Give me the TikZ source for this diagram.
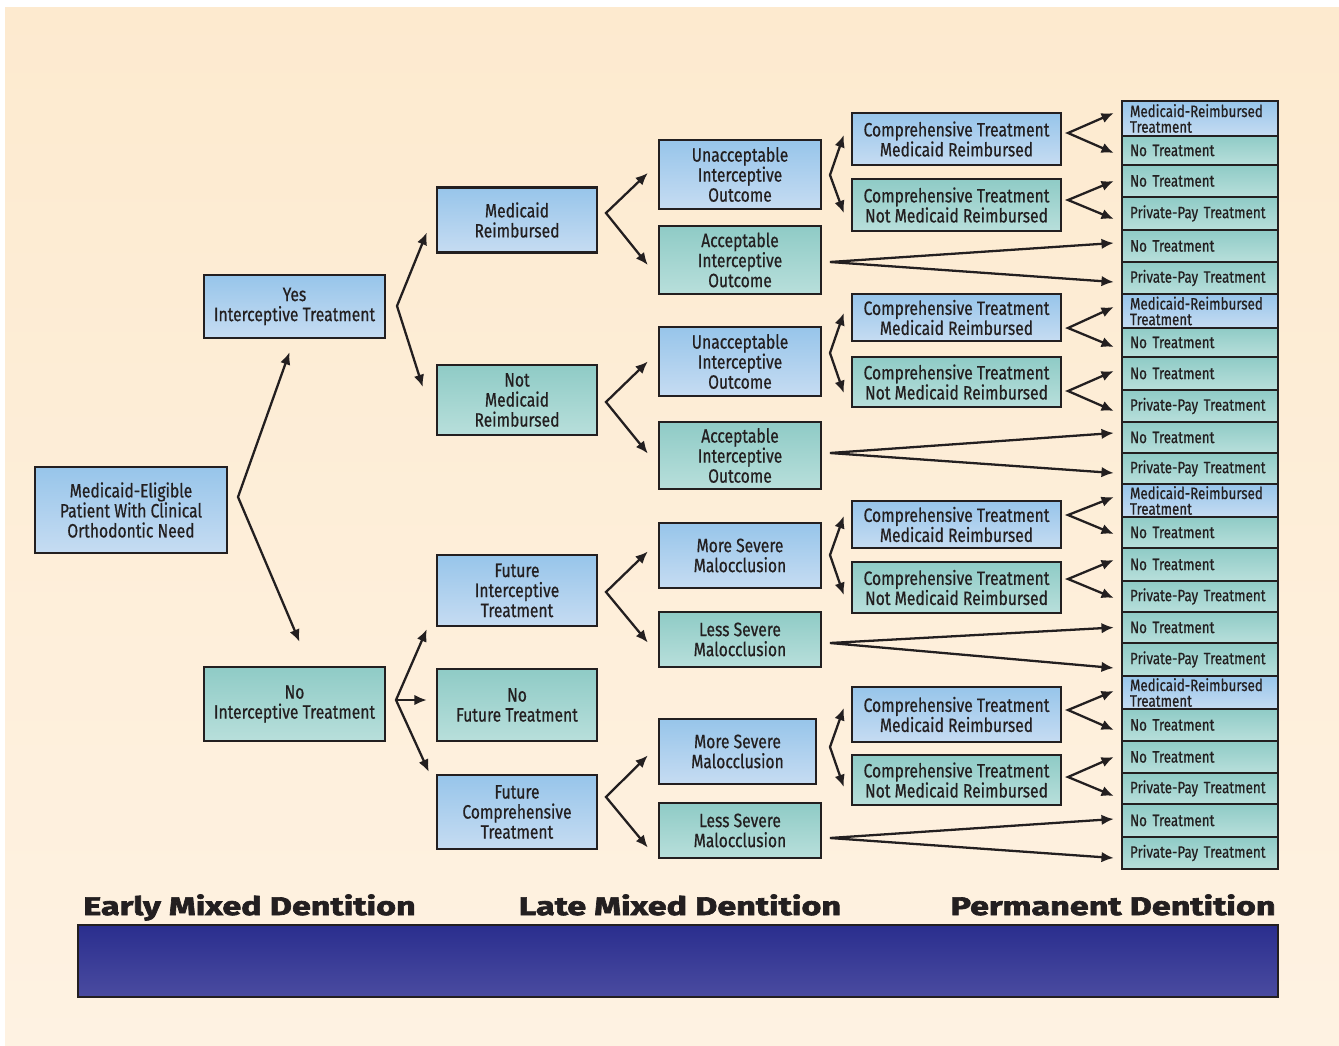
\documentclass[tikz,border=0pt]{standalone}
\usepackage{fontspec}
\setmainfont{Fira Sans}[FakeStretch=0.81, FakeBold=0.6]
\newfontfamily\stagefont{Fira Sans}[FakeStretch=1.34, BoldFeatures={FakeBold=2.6}]
\usepackage{tikz}
\usetikzlibrary{arrows.meta,calc}
\usepackage{xcolor}
\definecolor{ink}{HTML}{231F20}
\definecolor{blueTop}{HTML}{97C5EA}
\definecolor{blueBot}{HTML}{C6DCF2}
\definecolor{tealTop}{HTML}{8FCBC6}
\definecolor{tealBot}{HTML}{B8DFDB}
\definecolor{barTop}{HTML}{2A2E8E}
\definecolor{barBot}{HTML}{4A4BA0}
\definecolor{creamTop}{HTML}{FDEACF}
\definecolor{creamBot}{HTML}{FEF2E2}
\tikzset{box/.style={rectangle, draw=ink, line width=1.4pt, align=center, inner sep=0pt, text=ink, font=\fontsize{11}{11.4}\selectfont},bluebox/.style={box, top color=blueTop, bottom color=blueBot},tealbox/.style={box, top color=tealTop, bottom color=tealBot},leaf/.style={rectangle, draw=ink, line width=1.4pt, minimum width=3.12cm, text width=2.8cm, align=left, inner sep=0pt, text=ink, font=\fontsize{9.4}{8.9}\selectfont},blueleaf/.style={leaf, top color=blueTop, bottom color=blueBot},tealleaf/.style={leaf, top color=tealTop, bottom color=tealBot},arrowout/.style={-{Latex[length=7pt,width=6pt]}, line width=1.3pt, draw=ink},fork/.style={{Latex[length=7pt,width=6pt]}-{Latex[length=7pt,width=6pt]}, line width=1.3pt, draw=ink},stage/.style={inner sep=0pt, text=ink, font=\stagefont\bfseries\fontsize{14.5}{15}\selectfont}}

\begin{document}
\begin{tikzpicture}[x=0.02cm, y=-0.02cm]

\useasboundingbox (0,0) rectangle (1339,1045);
\fill[white] (0,0) rectangle (1339,1045);
\shade[top color=creamTop, bottom color=creamBot] (5,7) rectangle (1339,1045);

\node(root) at (131,510) [bluebox, minimum width=3.84cm, minimum height=1.72cm] {Medicaid-Eligible\\Patient With Clinical\\Orthodontic Need};
\node(yes) at (294.5,306.5) [bluebox, minimum width=3.62cm, minimum height=1.26cm] {Yes\\Interceptive Treatment};
\node(no) at (294.5,704) [tealbox, minimum width=3.62cm, minimum height=1.48cm] {No\\Interceptive Treatment};

\node(med) at (517,220) [bluebox, minimum width=3.2cm, minimum height=1.3cm] {Medicaid\\Reimbursed};
\node(notmed) at (517,400) [tealbox, minimum width=3.2cm, minimum height=1.4cm] {Not\\Medicaid\\Reimbursed};
\node(futint) at (517,590.5) [bluebox, minimum width=3.2cm, minimum height=1.42cm] {Future\\Interceptive\\Treatment};
\node(nofut) at (517,705) [tealbox, minimum width=3.2cm, minimum height=1.44cm] {No\\Future Treatment};
\node(futcomp) at (517,812) [bluebox, minimum width=3.2cm, minimum height=1.48cm] {Future\\Comprehensive\\Treatment};

\node(unacc1) at (740,174.5) [bluebox, minimum width=3.24cm, minimum height=1.38cm] {Unacceptable\\Interceptive\\Outcome};
\node(acc1) at (740,260) [tealbox, minimum width=3.24cm, minimum height=1.36cm] {Acceptable\\Interceptive\\Outcome};
\node(unacc2) at (740,361.5) [bluebox, minimum width=3.24cm, minimum height=1.38cm] {Unacceptable\\Interceptive\\Outcome};
\node(acc2) at (740,455.5) [tealbox, minimum width=3.24cm, minimum height=1.34cm] {Acceptable\\Interceptive\\Outcome};
\node(more1) at (740,555.5) [bluebox, minimum width=3.24cm, minimum height=1.3cm] {More Severe\\Malocclusion};
\node(less1) at (740,639.5) [tealbox, minimum width=3.24cm, minimum height=1.1cm] {Less Severe\\Malocclusion};
\node(more2) at (737.5,751.5) [bluebox, minimum width=3.14cm, minimum height=1.3cm] {More Severe\\Malocclusion};
\node(less2) at (740,830.5) [tealbox, minimum width=3.24cm, minimum height=1.1cm] {Less Severe\\Malocclusion};

\node(ctmr1) at (956.5,139) [bluebox, minimum width=4.18cm, minimum height=1.04cm] {Comprehensive Treatment\\Medicaid Reimbursed};
\node(ctn1) at (956.5,205) [tealbox, minimum width=4.18cm, minimum height=1.04cm] {Comprehensive Treatment\\Not Medicaid Reimbursed};
\node(ctmr2) at (956.5,317.5) [bluebox, minimum width=4.18cm, minimum height=0.94cm] {Comprehensive Treatment\\Medicaid Reimbursed};
\node(ctn2) at (956.5,382) [tealbox, minimum width=4.18cm, minimum height=1.0cm] {Comprehensive Treatment\\Not Medicaid Reimbursed};
\node(ctmr3) at (956.5,524.5) [bluebox, minimum width=4.18cm, minimum height=0.94cm] {Comprehensive Treatment\\Medicaid Reimbursed};
\node(ctn3) at (956.5,587.5) [tealbox, minimum width=4.18cm, minimum height=1.02cm] {Comprehensive Treatment\\Not Medicaid Reimbursed};
\node(ctmr4) at (956.5,714.5) [bluebox, minimum width=4.18cm, minimum height=1.1cm] {Comprehensive Treatment\\Medicaid Reimbursed};
\node(ctn4) at (956.5,780) [tealbox, minimum width=4.18cm, minimum height=1.0cm] {Comprehensive Treatment\\Not Medicaid Reimbursed};

\node(r1) at (1200,118.5) [blueleaf, minimum height=0.70cm] {Medicaid-Reimbursed\\Treatment};
\node(r2) at (1200,150.5) [tealleaf, minimum height=0.58cm] {No Treatment};
\node(r3) at (1200,181) [tealleaf, minimum height=0.64cm] {No Treatment};
\node(r4) at (1200,213.5) [tealleaf, minimum height=0.66cm] {Private-Pay Treatment};
\node(r5) at (1200,246) [tealleaf, minimum height=0.64cm] {No Treatment};
\node(r6) at (1200,278) [tealleaf, minimum height=0.64cm] {Private-Pay Treatment};
\node(r7) at (1200,311) [blueleaf, minimum height=0.68cm] {Medicaid-Reimbursed\\Treatment};
\node(r8) at (1200,342.5) [tealleaf, minimum height=0.58cm] {No Treatment};
\node(r9) at (1200,373.5) [tealleaf, minimum height=0.66cm] {No Treatment};
\node(r10) at (1200,406) [tealleaf, minimum height=0.64cm] {Private-Pay Treatment};
\node(r11) at (1200,437.5) [tealleaf, minimum height=0.62cm] {No Treatment};
\node(r12) at (1200,468.5) [tealleaf, minimum height=0.62cm] {Private-Pay Treatment};
\node(r13) at (1200,500.5) [blueleaf, minimum height=0.66cm] {Medicaid-Reimbursed\\Treatment};
\node(r14) at (1200,532.5) [tealleaf, minimum height=0.62cm] {No Treatment};
\node(r15) at (1200,564.5) [tealleaf, minimum height=0.66cm] {No Treatment};
\node(r16) at (1200,596.5) [tealleaf, minimum height=0.62cm] {Private-Pay Treatment};
\node(r17) at (1200,627.5) [tealleaf, minimum height=0.62cm] {No Treatment};
\node(r18) at (1200,659.5) [tealleaf, minimum height=0.66cm] {Private-Pay Treatment};
\node(r19) at (1200,692.5) [blueleaf, minimum height=0.66cm] {Medicaid-Reimbursed\\Treatment};
\node(r20) at (1200,725) [tealleaf, minimum height=0.64cm] {No Treatment};
\node(r21) at (1200,757) [tealleaf, minimum height=0.64cm] {No Treatment};
\node(r22) at (1200,788.5) [tealleaf, minimum height=0.62cm] {Private-Pay Treatment};
\node(r23) at (1200,820.5) [tealleaf, minimum height=0.66cm] {No Treatment};
\node(r24) at (1200,853) [tealleaf, minimum height=0.64cm] {Private-Pay Treatment};

\coordinate (vroot) at (238,497);
\coordinate (vyes) at (397,306);
\coordinate (vno) at (396,700);
\coordinate (vmed) at (606,213);
\coordinate (vnotmed) at (606,402);
\coordinate (vfutint) at (606,592);
\coordinate (vfutcomp) at (606,797);
\coordinate (vunacc1) at (830,175);
\coordinate (vacc1) at (830,262);
\coordinate (vunacc2) at (830,353);
\coordinate (vacc2) at (830,453);
\coordinate (vmore1) at (830,555);
\coordinate (vless1) at (830,643);
\coordinate (vmore2) at (830,747);
\coordinate (vless2) at (830,838);
\coordinate (vctmr1) at (1068,133);
\coordinate (vctn1) at (1068,200);
\coordinate (vctmr2) at (1068,328);
\coordinate (vctn2) at (1068,391);
\coordinate (vctmr3) at (1068,515);
\coordinate (vctn3) at (1068,579);
\coordinate (vctmr4) at (1068,710);
\coordinate (vctn4) at (1068,777);

\draw[fork] ($(yes.south)+(-5,13)$) -- (vroot) -- ($(no.north)+(5,-24)$);
\draw[fork] ($(med.west)+(-9,12.5)$) -- (vyes) -- ($(notmed.west)+(-13,-13)$);
\draw[fork] ($(futint.south west)+(-9,2)$) -- (vno) -- ($(futcomp.north west)+(-7,-2)$);
\draw[arrowout] (vno) -- ($(nofut.west)+(-9,-5)$);

\draw[fork] ($(unacc1.west)+(-10,-1.5)$) -- (vmed) -- ($(acc1.west)+(-10,5)$);
\draw[fork] ($(unacc2.west)+(-10,0)$) -- (vnotmed) -- ($(acc2.west)+(-10,-2)$);
\draw[fork] ($(more1.west)+(-10,-4)$) -- (vfutint) -- ($(less1.west)+(-10,3)$);
\draw[fork] ($(more2.west)+(-10,4)$) -- (vfutcomp) -- ($(less2.west)+(-10,17)$);

\draw[fork] ($(ctmr1.west)+(-7,-4)$) -- (vunacc1) -- ($(ctn1.west)+(-7,8)$);
\draw[fork] ($(ctmr2.west)+(-7,-4.5)$) -- (vunacc2) -- ($(ctn2.west)+(-7,11)$);
\draw[fork] ($(ctmr3.west)+(-7,-8.5)$) -- (vmore1) -- ($(ctn3.west)+(-7,7.5)$);
\draw[fork] ($(ctmr4.west)+(-7,-6.5)$) -- (vmore2) -- ($(ctn4.west)+(-7,7)$);

\draw[fork] ($(r5.west)+(-7,-3)$) -- (vacc1) -- ($(r6.west)+(-7,4)$);
\draw[fork] ($(r11.west)+(-7,-4.5)$) -- (vacc2) -- ($(r12.west)+(-7,4.5)$);
\draw[fork] ($(r17.west)+(-7,0)$) -- (vless1) -- ($(r18.west)+(-7,8.5)$);
\draw[fork] ($(r23.west)+(-7,-1.5)$) -- (vless2) -- ($(r24.west)+(-7,5)$);

\draw[fork] ($(r1.west)+(-7,-5.5)$) -- (vctmr1) -- ($(r2.west)+(-7,2.5)$);
\draw[fork] ($(r3.west)+(-7,0)$) -- (vctn1) -- ($(r4.west)+(-7,5.5)$);
\draw[fork] ($(r7.west)+(-7,-4)$) -- (vctmr2) -- ($(r8.west)+(-7,4.5)$);
\draw[fork] ($(r9.west)+(-7,-2.5)$) -- (vctn2) -- ($(r10.west)+(-7,5)$);
\draw[fork] ($(r13.west)+(-7,-3.5)$) -- (vctmr3) -- ($(r14.west)+(-7,1.5)$);
\draw[fork] ($(r15.west)+(-7,-4.5)$) -- (vctn3) -- ($(r16.west)+(-7,1.5)$);
\draw[fork] ($(r19.west)+(-7,-1.5)$) -- (vctmr4) -- ($(r20.west)+(-7,5)$);
\draw[fork] ($(r21.west)+(-7,0)$) -- (vctn4) -- ($(r22.west)+(-7,7.5)$);

\node(early) at (83,915) [stage, anchor=base west] {Early Mixed Dentition};
\node(late) at (680,915) [stage, anchor=base] {Late Mixed Dentition};
\node(perm) at (1276,915) [stage, anchor=base east] {Permanent Dentition};
\node(bar) at (678,961) [draw=ink, line width=1.4pt, top color=barTop, bottom color=barBot, minimum width=24cm, minimum height=1.44cm, inner sep=0pt] {};

\end{tikzpicture}
\end{document}
